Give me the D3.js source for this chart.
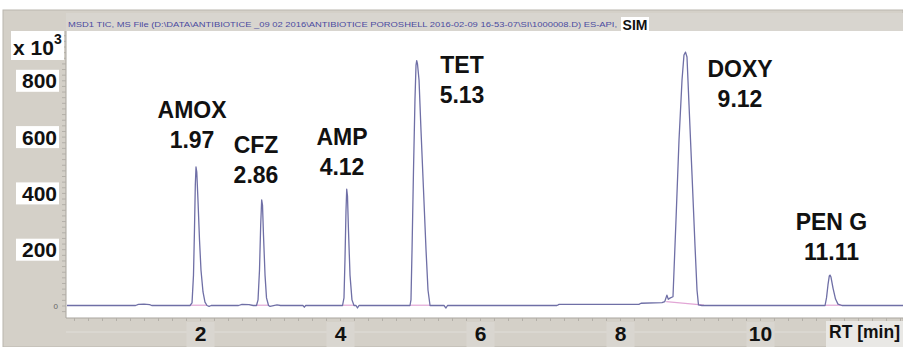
<!DOCTYPE html>
<html>
<head>
<meta charset="utf-8">
<script src="https://cdn.jsdelivr.net/npm/d3@7"></script>
<style>
body { margin: 0; background: #fff; }
svg { display: block; font-family: "Liberation Sans", Arial, sans-serif; }
</style>
</head>
<body>
<div id="chart-area"></div>
<script>
// ---- data ----
const titleText = "MSD1 TIC, MS File (D:\\DATA\\ANTIBIOTICE _09 02 2016\\ANTIBIOTICE POROSHELL 2016-02-09 16-53-07\\SI\\1000008.D) ES-API,";
const modeText = "SIM";
const yTicks = [200, 400, 600, 800];
const xTicks = [2, 4, 6, 8, 10];
const xUnit = "RT [min]";
const peakNames = ["AMOX", "CFZ", "AMP", "TET", "DOXY", "PEN G"];
const peakTimes = ["1.97", "2.86", "4.12", "5.13", "9.12", "11.11"];

// [RT min, abundance x10^3]
const tic = [
    [0.09, 0], [1.08, 0], [1.12, 4], [1.2, 5], [1.28, 3], [1.31, 0],
    [1.857, 0], [1.886, 9], [1.907, 108], [1.921, 268], [1.933, 428], [1.943, 492], [1.954, 474],
    [1.971, 375], [1.993, 233], [2.014, 126], [2.043, 48], [2.071, 12], [2.1, 0], [2.13, -3], [2.16, 0],
    [2.55, 0], [2.6, 4], [2.7, 3], [2.76, 0],
    [2.807, 0], [2.829, 20], [2.85, 126], [2.867, 286], [2.881, 375], [2.893, 357], [2.907, 250],
    [2.929, 108], [2.95, 27], [2.979, 0], [3.0, -3], [3.1, 2], [3.15, 0],
    [3.47, 0], [3.49, -6], [3.51, 0],
    [4.036, 0], [4.057, 27], [4.071, 162], [4.086, 339], [4.096, 413], [4.107, 389], [4.121, 268],
    [4.143, 108], [4.171, 20], [4.2, 0], [4.229, 0], [4.25, -9], [4.271, 0],
    [5.0, 0], [5.014, 20], [5.029, 197], [5.05, 481], [5.071, 730], [5.086, 854], [5.096, 870],
    [5.107, 858], [5.129, 801], [5.157, 623], [5.193, 410], [5.229, 197], [5.257, 55], [5.286, 0],
    [5.486, 0], [5.514, -9], [5.536, 0],
    [7.1, 0], [7.13, 4], [8.27, 4], [8.3, 8], [8.6, 10], [8.64, 14], [8.67, 37], [8.69, 22], [8.72, 27],
    [8.757, 31], [8.8, 304], [8.843, 588], [8.886, 801], [8.914, 890], [8.936, 900], [8.957, 883],
    [8.986, 712], [9.029, 464], [9.071, 215], [9.1, 55], [9.121, 2], [9.171, 0],
    [10.929, 0], [10.95, 27], [10.971, 73], [10.99, 105], [11.0, 108], [11.014, 101], [11.043, 62],
    [11.079, 23], [11.114, 5], [11.171, 0],
    [12.05, 0]
];

// integration baselines [start RT, start abundance, end RT, end abundance]
const integration = [
    [1.857, 1, 2.1, 1], [2.807, 1, 2.979, 1], [4.036, 1, 4.2, 1],
    [5.0, 1, 5.286, 1], [8.66, 14, 9.2, 1], [10.929, 1, 11.171, 1]
];

// label anchors (centre RT, abundance at first baseline)
const labelRT = [1.886, 2.8, 4.029, 5.743, 9.714, 11.021];
const labelAbund = [666, 541, 570, 826, 812, 268];

// ---- layout ----
const W = 903, H = 347;
const plot = {left: 66, top: 31, right: 903, bottom: 318};
const panelGray = "#d4d0c8";
const traceColor = "#6f6fa6";

const svg = d3.select("#chart-area").append("svg")
    .attr("width", W)
    .attr("height", H);

svg.append("rect").attr("width", W).attr("height", H).attr("fill", "#fff");
svg.append("rect")
    .attr("x", 3).attr("y", 10)
    .attr("width", W - 3).attr("height", H - 10)
    .attr("fill", panelGray)
    .attr("stroke", "#bab6ae");

// title bar
svg.append("rect")
    .attr("x", plot.left).attr("y", 13)
    .attr("width", W - plot.left).attr("height", plot.top - 13)
    .attr("fill", "#d8d5cf");
svg.append("text")
    .attr("x", 68).attr("y", 27)
    .attr("font-size", "8px")
    .attr("fill", "#4b4ba0")
    .attr("textLength", 549)
    .attr("lengthAdjust", "spacingAndGlyphs")
    .text(titleText);
svg.append("rect")
    .attr("x", 621).attr("y", 17)
    .attr("width", 28).attr("height", 15)
    .attr("fill", "#fff");
svg.append("text")
    .attr("x", 635).attr("y", 30)
    .attr("text-anchor", "middle")
    .attr("font-size", "14px")
    .attr("font-weight", "bold")
    .attr("fill", "#111")
    .text(modeText);

// plot area
svg.append("rect")
    .attr("x", plot.left).attr("y", plot.top)
    .attr("width", plot.right - plot.left).attr("height", plot.bottom - plot.top)
    .attr("fill", "#fff");
svg.append("path")
    .attr("d", `M${plot.left},${plot.top}V${plot.bottom}H${plot.right}`)
    .attr("fill", "none")
    .attr("stroke", "#a9a59e");

const x = d3.scaleLinear().domain([0, 12]).range([60, 900]);
const y = d3.scaleLinear().domain([0, 800]).range([305.5, 80.3]);

// rulers
const yRuler = svg.append("g")
    .attr("transform", `translate(${plot.left},0)`)
    .call(d3.axisLeft(y).tickValues(d3.range(-20, 1000, 20)).tickSize(4).tickFormat(""));
yRuler.select(".domain").remove();
yRuler.selectAll("line").attr("stroke", "#b3afa8");
yRuler.selectAll(".tick").filter(d => y(d) < plot.top || y(d) > plot.bottom).remove();

const xRuler = svg.append("g")
    .attr("transform", `translate(0,${plot.bottom})`)
    .call(d3.axisBottom(x).tickValues(d3.range(0.2, 12.1, 0.2)).tickSize(3).tickFormat(""));
xRuler.select(".domain").remove();
xRuler.selectAll("line").attr("stroke", "#b3afa8");
xRuler.selectAll(".tick").filter(d => x(d) < plot.left).remove();

svg.append("line")
    .attr("x1", plot.left).attr("x2", W)
    .attr("y1", 332).attr("y2", 332)
    .attr("stroke", "#e0ded9");

// y labels
svg.append("rect")
    .attr("x", 11).attr("y", plot.top)
    .attr("width", 53).attr("height", 29)
    .attr("fill", "#fff");
const xTen = svg.append("text")
    .attr("x", 13).attr("y", 55)
    .attr("font-size", "21px")
    .attr("font-weight", "bold")
    .attr("fill", "#111");
xTen.append("tspan").text("x 10");
xTen.append("tspan").attr("dy", -11).attr("font-size", "14px").text("3");

const yAxis = svg.append("g")
    .attr("transform", "translate(57,0)")
    .call(d3.axisLeft(y).tickValues(yTicks).tickSize(0).tickPadding(0));
yAxis.select(".domain").remove();
yAxis.selectAll(".tick").insert("rect", "text")
    .attr("x", -41).attr("y", -11)
    .attr("width", 43).attr("height", 22)
    .attr("fill", "#fff");
yAxis.selectAll("text")
    .attr("font-size", "21px")
    .attr("font-weight", "bold")
    .attr("font-family", "Liberation Sans, Arial, sans-serif")
    .attr("fill", "#111")
    .attr("dy", "0.36em");

svg.append("text")
    .attr("x", 58).attr("y", y(0) + 3)
    .attr("text-anchor", "end")
    .attr("font-size", "8px")
    .attr("fill", "#666")
    .text("0");

// x labels
const xAxis = svg.append("g")
    .attr("transform", "translate(0,341)")
    .call(d3.axisBottom(x).tickValues(xTicks).tickSize(0).tickPadding(0));
xAxis.select(".domain").remove();
xAxis.selectAll(".tick").insert("rect", "text")
    .attr("x", -14).attr("y", -19)
    .attr("width", 28).attr("height", 25)
    .attr("fill", "#d9d6d0");
xAxis.selectAll("text")
    .attr("y", 0).attr("dy", 0)
    .attr("font-size", "21px")
    .attr("font-weight", "bold")
    .attr("font-family", "Liberation Sans, Arial, sans-serif")
    .attr("fill", "#111");

svg.append("rect")
    .attr("x", 826).attr("y", 321)
    .attr("width", W - 826).attr("height", H - 321)
    .attr("fill", "#e9e8e5");
svg.append("text")
    .attr("x", 829).attr("y", 338)
    .attr("font-size", "17.5px")
    .attr("font-weight", "bold")
    .attr("fill", "#111")
    .text(xUnit);

// trace
const clip = svg.append("clipPath").attr("id", "plot-clip");
clip.append("rect")
    .attr("x", plot.left + 1).attr("y", plot.top)
    .attr("width", plot.right - plot.left).attr("height", plot.bottom - plot.top - 1);

const traceG = svg.append("g").attr("clip-path", "url(#plot-clip)");

traceG.selectAll("line.base")
    .data(integration)
    .enter().append("line")
    .attr("class", "base")
    .attr("x1", d => x(d[0])).attr("y1", d => y(d[1]))
    .attr("x2", d => x(d[2])).attr("y2", d => y(d[3]))
    .attr("stroke", "#e2a6d6")
    .attr("stroke-width", 1.2);

traceG.append("path")
    .datum(tic)
    .attr("fill", "none")
    .attr("stroke", traceColor)
    .attr("stroke-width", 1.3)
    .attr("stroke-linejoin", "round")
    .attr("d", d3.line().x(d => x(d[0])).y(d => y(d[1])));

// peak annotations
const labels = svg.append("g")
    .selectAll("text")
    .data(peakNames)
    .enter().append("text")
    .attr("x", (d, i) => x(labelRT[i]))
    .attr("y", (d, i) => y(labelAbund[i]))
    .attr("text-anchor", "middle")
    .attr("font-size", "23px")
    .attr("font-weight", "bold")
    .attr("fill", "#111");
labels.append("tspan").text(d => d);
labels.append("tspan")
    .attr("x", (d, i) => x(labelRT[i]))
    .attr("dy", 30)
    .text((d, i) => peakTimes[i]);
</script>
</body>
</html>
